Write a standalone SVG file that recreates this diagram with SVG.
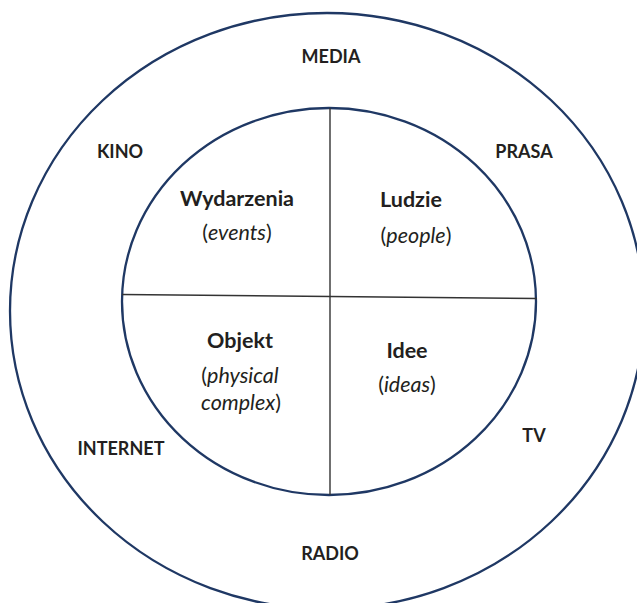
<svg xmlns="http://www.w3.org/2000/svg" width="637" height="603" viewBox="0 0 637 603">
<style>
.ring{fill:none;stroke:#1f3864;stroke-width:2.3}
.div{stroke:#333;stroke-width:1.4}
.t{font-family:Lato,"Open Sans","Liberation Sans",sans-serif;fill:#231f20;text-anchor:middle}
.b{font-weight:bold;font-size:18px}
.ib{font-weight:bold;font-size:21.5px}
.s{font-weight:normal;font-size:21.5px}
.i{font-style:italic}
</style>
<rect width="637" height="603" fill="#fff"/>
<g id="media-ring">
<ellipse class="ring" cx="327" cy="311" rx="317" ry="298"/>
<text class="t b" x="331" y="63">MEDIA</text>
<text class="t b" x="120" y="158">KINO</text>
<text class="t b" x="524" y="158">PRASA</text>
<text class="t b" x="121" y="455">INTERNET</text>
<text class="t b" x="534" y="442">TV</text>
<text class="t b" x="330" y="560">RADIO</text>
</g>
<g id="inner-circle">
<ellipse class="ring" cx="329" cy="301.5" rx="207" ry="193.5"/>
</g>
<g id="connectors">
<line class="div" x1="330" y1="108" x2="330" y2="495"/>
<line class="div" x1="122" y1="294.5" x2="537" y2="298.5"/>
</g>
<g id="wydarzenia">
<text class="t ib" x="237" y="206">Wydarzenia</text>
<text class="t s" x="237" y="240">(<tspan class="i">events</tspan>)</text>
</g>
<g id="ludzie">
<text class="t ib" x="411" y="207">Ludzie</text>
<text class="t s" x="416" y="243">(<tspan class="i">people</tspan>)</text>
</g>
<g id="objekt">
<text class="t ib" x="240" y="348">Objekt</text>
<text class="t s" x="240" y="383">(<tspan class="i">physical</tspan></text>
<text class="t s" x="241" y="410"><tspan class="i">complex</tspan>)</text>
</g>
<g id="idee">
<text class="t ib" x="407" y="358">Idee</text>
<text class="t s" x="407" y="392">(<tspan class="i">ideas</tspan>)</text>
</g>
</svg>
